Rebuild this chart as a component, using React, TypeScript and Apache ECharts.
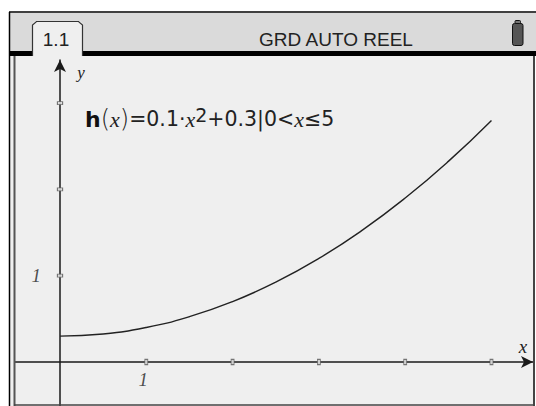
import React, { useEffect, useRef } from "react";
import * as echarts from "echarts";

const curveX = [0, 0.5, 1, 1.5, 2, 2.5, 3, 3.5, 4, 4.5, 5];
const curveY = [0.3, 0.325, 0.4, 0.525, 0.7, 0.925, 1.2, 1.525, 1.9, 2.325, 2.8];
const xTicks = [1, 2, 3, 4, 5];
const yTicks = [1, 2, 3];
const xTickLabels = ["1"];
const yTickLabels = ["1"];
const title = "GRD AUTO REEL";
const tabLabel = "1.1";

const X_MIN = -0.5214;
const X_MAX = 5.481;
const Y_MIN = -0.51;
const Y_MAX = 3.5;

export default function App() {
  const ref = useRef<HTMLDivElement>(null);
  useEffect(() => {
    const chart = echarts.init(ref.current!, null, { renderer: "svg" });
    const axisColor = "#1a1a1a";
    const serif = "'Liberation Serif', 'DejaVu Serif', serif";
    chart.setOption({
      animation: false,
      backgroundColor: "#ffffff",
      grid: { left: 15, right: 3, top: 60, bottom: 0, containLabel: false },
      xAxis: {
        type: "value",
        min: X_MIN,
        max: X_MAX,
        splitLine: { show: false },
        axisTick: { show: false },
        axisLabel: { show: false },
        axisLine: {
          show: true,
          onZero: true,
          symbol: ["none", "arrow"],
          symbolSize: [9, 12],
          lineStyle: { color: axisColor, width: 1.5 },
        },
      },
      yAxis: {
        type: "value",
        min: Y_MIN,
        max: Y_MAX,
        splitLine: { show: false },
        axisTick: { show: false },
        axisLabel: { show: false },
        axisLine: {
          show: true,
          onZero: true,
          symbol: ["none", "arrow"],
          symbolSize: [9, 12],
          lineStyle: { color: axisColor, width: 1.5 },
        },
      },
      series: [
        {
          type: "line",
          data: curveX.map((x, i) => [x, curveY[i]]),
          smooth: true,
          showSymbol: false,
          lineStyle: { color: "#222", width: 1.4 },
          z: 5,
        },
        {
          type: "scatter",
          data: xTicks.map((v) => [v, 0]),
          symbol: "rect",
          symbolSize: [3, 5],
          itemStyle: { color: "#efefef", borderColor: "#555", borderWidth: 1 },
          z: 6,
        },
        {
          type: "scatter",
          data: yTicks.map((v) => [0, v]),
          symbol: "rect",
          symbolSize: [5, 3],
          itemStyle: { color: "#efefef", borderColor: "#555", borderWidth: 1 },
          z: 6,
        },
        {
          type: "scatter",
          data: xTickLabels.map((t) => [Number(t), 0]),
          symbolSize: 0,
          label: {
            show: true,
            formatter: (p: any) => String(p.value[0]),
            position: "bottom",
            distance: 8,
            offset: [-3, 0],
            fontFamily: serif,
            fontStyle: "italic",
            fontSize: 19,
            color: "#222",
          },
          z: 6,
        },
        {
          type: "scatter",
          data: yTickLabels.map((t) => [0, Number(t)]),
          symbolSize: 0,
          label: {
            show: true,
            formatter: (p: any) => String(p.value[1]),
            position: "left",
            distance: 19,
            fontFamily: serif,
            fontStyle: "italic",
            fontSize: 19,
            color: "#222",
          },
          z: 6,
        },
      ],
      graphic: [
        { type: "rect", z: -100, shape: { x: 10, y: 56, width: 524, height: 350 }, style: { fill: "#efefef" } },
        { type: "rect", z: -100, shape: { x: 10, y: 13, width: 526, height: 39 }, style: { fill: "#dadada" } },
        { type: "rect", z: -99, shape: { x: 10, y: 51, width: 526, height: 5 }, style: { fill: "#000" } },
        { type: "rect", z: -98, shape: { x: 32, y: 21, width: 51, height: 37, r: [5, 5, 0, 0] }, style: { fill: "#efefef" } },
        {
          type: "polyline",
          z: -97,
          shape: { points: [[32.5, 56], [32.5, 25], [36.5, 21.5], [78.5, 21.5], [82.5, 25], [82.5, 56]] },
          style: { stroke: "#333", lineWidth: 1.2, fill: null },
        },
        {
          type: "text",
          z: 50,
          x: 56,
          y: 39,
          style: { text: tabLabel, fontFamily: "'Liberation Sans', Arial, sans-serif", fontSize: 19, fill: "#222", align: "center", verticalAlign: "middle" },
        },
        {
          type: "text",
          z: 50,
          x: 336,
          y: 39,
          style: { text: title, fontFamily: "'Liberation Sans', Arial, sans-serif", fontSize: 19, fill: "#222", align: "center", verticalAlign: "middle" },
        },
        { type: "rect", z: 50, shape: { x: 512.5, y: 23.5, width: 10.5, height: 22, r: 2 }, style: { fill: "#555", stroke: "#111", lineWidth: 1 } },
        { type: "rect", z: 50, shape: { x: 515, y: 20.5, width: 5.5, height: 3, r: 1 }, style: { fill: "#777", stroke: "#111", lineWidth: 1 } },
        { type: "line", z: 60, shape: { x1: 9, y1: 12, x2: 536, y2: 12 }, style: { stroke: "#000", lineWidth: 1.5 } },
        { type: "line", z: 60, shape: { x1: 9.5, y1: 12, x2: 9.5, y2: 406 }, style: { stroke: "#000", lineWidth: 1.5 } },
        { type: "line", z: 60, shape: { x1: 14.5, y1: 56, x2: 14.5, y2: 406 }, style: { stroke: "#555", lineWidth: 2 } },
        { type: "line", z: 60, shape: { x1: 534, y1: 56, x2: 534, y2: 406 }, style: { stroke: "#444", lineWidth: 2 } },
        { type: "line", z: 60, shape: { x1: 14, y1: 405, x2: 534, y2: 405 }, style: { stroke: "#444", lineWidth: 1.5 } },
        {
          type: "text",
          z: 50,
          x: 81,
          y: 72,
          style: { text: "y", fontFamily: serif, fontStyle: "italic", fontSize: 17, fill: "#222", align: "center", verticalAlign: "middle" },
        },
        {
          type: "text",
          z: 50,
          x: 523,
          y: 346,
          style: { text: "x", fontFamily: serif, fontStyle: "italic", fontSize: 19, fill: "#222", align: "center", verticalAlign: "middle" },
        },
        {
          type: "text",
          z: 50,
          x: 85,
          y: 119,
          style: {
            text: "{b|h}{p|(}{i|x}{p|)}{n|=0.1·}{i|x}{s|2}{n|+0.3|0<}{i|x}{n|≤5}",
            align: "left",
            verticalAlign: "middle",
            rich: {
              b: { fontFamily: "'DejaVu Sans', sans-serif", fontWeight: "bold", fontSize: 22, fill: "#111", lineHeight: 28 },
              p: { fontFamily: "'DejaVu Sans', sans-serif", fontWeight: 200, fontSize: 24, fill: "#222", lineHeight: 28 },
              i: { fontFamily: serif, fontStyle: "italic", fontSize: 22, fill: "#222", lineHeight: 28 },
              n: { fontFamily: "'DejaVu Sans', sans-serif", fontSize: 20.5, fill: "#222", lineHeight: 28 },
              s: { fontFamily: "'DejaVu Sans', sans-serif", fontSize: 19, fill: "#222", lineHeight: 28, verticalAlign: "top", padding: [0, 0, 12, 0] },
            },
          },
        },
      ],
    });
    return () => chart.dispose();
  }, []);
  return <div ref={ref} style={{ position: "absolute", left: 0, top: 0, width: 536, height: 406 }} />;
}
